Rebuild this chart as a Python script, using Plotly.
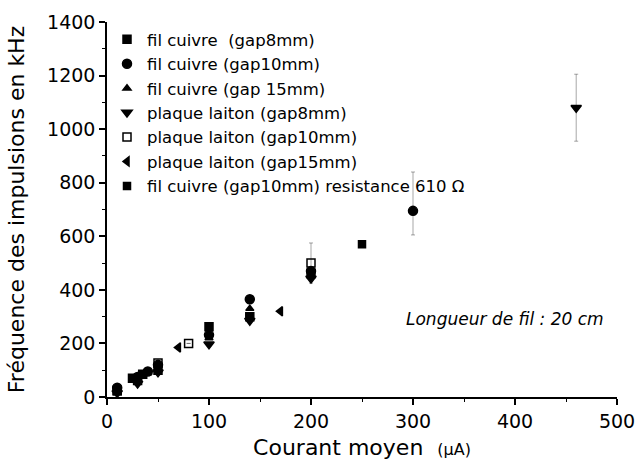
import plotly.graph_objects as go

# ---- data ----
names = [
    "fil cuivre  (gap8mm)",
    "fil cuivre (gap10mm)",
    "fil cuivre (gap 15mm)",
    "plaque laiton (gap8mm)",
    "plaque laiton (gap10mm)",
    "plaque laiton (gap15mm)",
    "fil cuivre (gap10mm) resistance 610 \u03a9",
]
cu8_x = [10, 25, 35, 50, 100, 140, 200]
cu8_y = [25, 70, 85, 100, 262, 300, 462]
cu10_x = [10, 30, 40, 50, 100, 140, 200, 300]
cu10_y = [35, 75, 95, 120, 232, 365, 470, 695]
cu10_err_plus = [0, 0, 0, 0, 0, 0, 0, 145]
cu10_err_minus = [0, 0, 0, 0, 0, 0, 0, 90]
cu15_x = [10, 30, 40, 100, 140, 200]
cu15_y = [30, 65, 90, 220, 330, 450]
pl8_x = [10, 30, 50, 100, 140, 200, 460]
pl8_y = [15, 50, 92, 197, 285, 442, 1080]
pl8_err = [0, 0, 0, 0, 0, 0, 125]
pl10_x = [10, 30, 50, 80, 200]
pl10_y = [22, 62, 127, 200, 500]
pl10_err = [0, 0, 0, 0, 75]
pl15_x = [70, 170]
pl15_y = [185, 320]
res_x = [250]
res_y = [570]

x_ticks = [0, 100, 200, 300, 400, 500]
y_ticks = [0, 200, 400, 600, 800, 1000, 1200, 1400]

FONT = "DejaVu Sans"
errc = "rgba(0,0,0,0.35)"
fig = go.Figure()

def add(name, xs, ys, symbol, size, fill="black", err=None):
    kw = {}
    if err is not None:
        kw["error_y"] = dict(type="data", symmetric=False if isinstance(err, tuple) else True,
                             array=err[0] if isinstance(err, tuple) else err,
                             arrayminus=err[1] if isinstance(err, tuple) else None,
                             color=errc, thickness=1, width=2)
    fig.add_trace(go.Scatter(
        x=xs, y=ys, mode="markers", name=name,
        marker=dict(symbol=symbol, size=size, color=fill,
                    line=dict(color="black", width=1.5)),
        **kw))

add(names[0], cu8_x, cu8_y, "square", 8)
add(names[1], cu10_x, cu10_y, "circle", 9, err=(cu10_err_plus, cu10_err_minus))
add(names[2], cu15_x, cu15_y, "triangle-up", 7)
add(names[3], pl8_x, pl8_y, "triangle-down", 9, err=pl8_err)
add(names[4], pl10_x, pl10_y, "square-open", 8, fill="black", err=pl10_err)
add(names[5], pl15_x, pl15_y, "triangle-left", 8)
add(names[6], res_x, res_y, "square", 7)

fig.add_annotation(x=390, y=292, xref="x", yref="y", text="<i>Longueur de fil : 20 cm</i>",
                   showarrow=False, font=dict(size=17, color="black", family=FONT))

axis_common = dict(showline=True, linecolor="black", linewidth=1.5, ticks="outside",
                   ticklen=6, tickwidth=1.5, tickcolor="black", showgrid=False,
                   zeroline=False, mirror=False, automargin=False, ticklabeloverflow="allow",
                   tickfont=dict(size=19, color="black", family=FONT))
fig.update_layout(
    width=635, height=460,
    paper_bgcolor="white", plot_bgcolor="white",
    margin=dict(l=107, r=18, t=22, b=63),
    font=dict(family=FONT, color="black"),
    showlegend=True,
    legend=dict(x=0.0, y=1.0, xanchor="left", yanchor="top", bgcolor="rgba(0,0,0,0)",
                font=dict(size=16.5, color="black", family=FONT), tracegroupgap=0, itemwidth=30),
    xaxis=dict(range=[0, 500], tickvals=x_ticks,
               minor=dict(dtick=50, ticks="outside", ticklen=3, tickwidth=1, tickcolor="black"),
               title=dict(text="Courant moyen  <span style='font-size:16px'>(\u00b5A)</span>",
                          font=dict(size=22, color="black", family=FONT), standoff=11),
               **axis_common),
    yaxis=dict(range=[0, 1400], tickvals=y_ticks,
               minor=dict(dtick=100, ticks="outside", ticklen=3, tickwidth=1, tickcolor="black"),
               title=dict(text="Fréquence des impulsions en kHz",
                          font=dict(size=22, color="black", family=FONT), standoff=16),
               **axis_common),
)

fig.write_html("out.html", config={"displayModeBar": False},
               post_script="document.body.style.margin='0';document.body.style.overflow='hidden';")
